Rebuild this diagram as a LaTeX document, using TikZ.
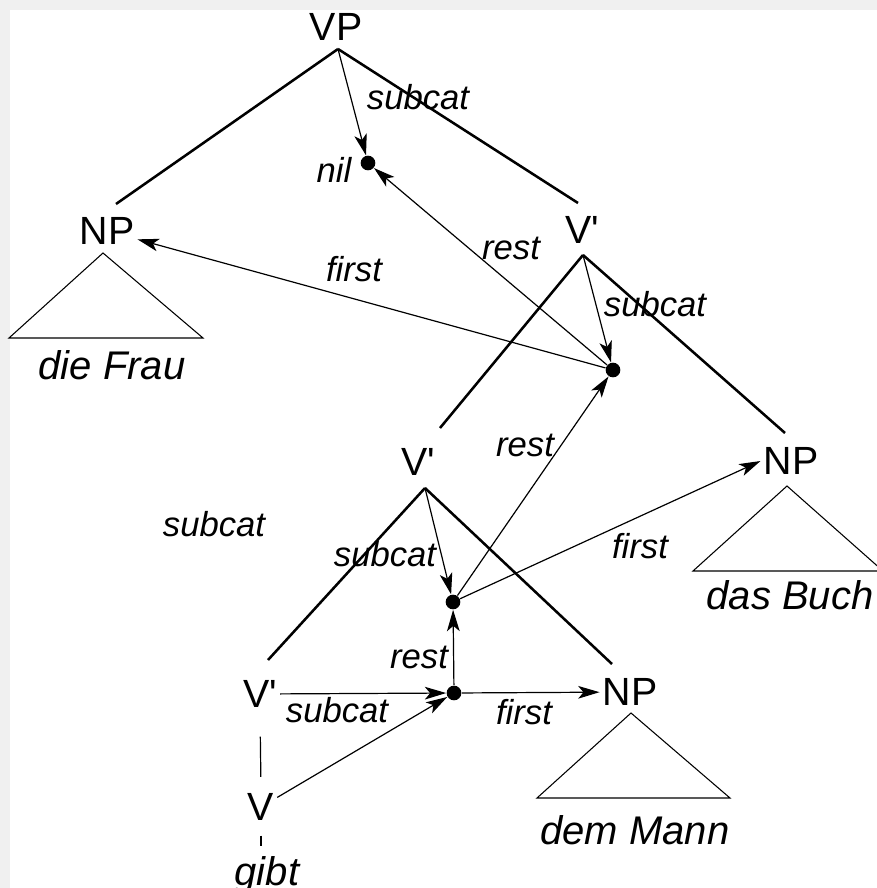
\documentclass[tikz,border=0pt]{standalone}
\usepackage{fontspec}
\setmainfont{Liberation Sans}
\usetikzlibrary{arrows.meta}

\newcommand{\Vbar}{V\textquotesingle}

\tikzset{every picture/.style={line width=0.75pt}}
\tikzset{
  cat/.style={inner sep=2pt, font=\fontsize{29.5}{30}\selectfont},
  word/.style={inner sep=2pt, font=\fontsize{30}{32}\selectfont\itshape},
  feat/.style={inner sep=1pt, font=\fontsize{26}{28}\selectfont\itshape},
  dot/.style={circle, fill, inner sep=0pt, minimum size=11pt},
  branch/.style={line width=1.9pt},
  roof/.style={line width=0.8pt},
  link/.style={line width=0.9pt},
  arc/.style={line width=0.9pt, -{Stealth[length=16pt,width=9.5pt,inset=4pt]}}
}

\begin{document}
\begin{tikzpicture}[x=0.75pt,y=0.75pt,yscale=-1,xscale=1]
%set the frame, grey strip at top and left
\fill[gray!12] (0,0) rectangle (877,888);
\fill[white] (10,10) rectangle (877,888);
\useasboundingbox (0,0) rectangle (877,888);

% Text Node
\node[cat] (vp) at (336,27) {VP};
% Text Node
\node[cat] (np1) at (107,231) {NP};
% Text Node
\node[cat] (v1) at (582,230) {\Vbar};
% Text Node
\node[cat] (v2) at (418,462) {\Vbar};
% Text Node
\node[cat] (np2) at (791,461) {NP};
% Text Node
\node[cat] (v3) at (260,694) {\Vbar};
% Text Node
\node[cat] (np3) at (630,692) {NP};
% Text Node
\node[cat] (v4) at (261,807) {V};

% Text Node
\node[word] (frau) at (112,365) {die Frau};
% Text Node
\node[word] (buch) at (790,595) {das Buch};
% Text Node
\node[word] (mann) at (635,830) {dem Mann};
% Text Node
\node[word, anchor=base] (gibt) at (267,885) {gibt};

%Shape: dots
\node[dot] (d0) at (368,163) {};
\node[dot] (d1) at (613,370) {};
\node[dot] (d2) at (453,602) {};
\node[dot] (d3) at (454,693) {};

%apex points under the labels
\coordinate (vp-b) at (338,49);
\coordinate (v1-b) at (583,255);
\coordinate (v2-b) at (425,488);
\coordinate (np1-b) at (103,253);
\coordinate (np2-b) at (787,486);
\coordinate (np3-b) at (631,713);
%ends of the branches
\coordinate (np1-t) at (116,204);
\coordinate (v1-t) at (578,203);
\coordinate (v2-t) at (440,428);
\coordinate (np2-t) at (785,433);
\coordinate (v3-t) at (268,660);
\coordinate (np3-t) at (612,664);

%Straight Lines: tree
\draw[branch] (vp-b) -- (np1-t);
\draw[branch] (vp-b) -- (v1-t);
\draw[branch] (v1-b) -- (v2-t);
\draw[branch] (v1-b) -- (np2-t);
\draw[branch] (v2-b) -- (v3-t);
\draw[branch] (v2-b) -- (np3-t);
\draw[link, shorten <=19.5pt, shorten >=10pt] (v3.south) -- (v4.north);
\draw[link, shorten <=9pt, shorten >=5pt] (v4.south) -- (v4.south |- gibt.north);

%Shape: triangles
\draw[roof] (np1-b) -- ++(-94,85) -- ++(194,0) -- cycle;
\draw[roof] (np2-b) -- ++(-94,85) -- ++(190,0) -- cycle;
\draw[roof] (np3-b) -- ++(-94,85) -- ++(193,0) -- cycle;

%Straight Lines: arcs
\draw[arc] (vp-b) -- (d0);
\draw[arc] (v1-b) -- (d1);
\draw[arc] (d1) -- (d0);
\draw[arc] (d1) -- (np1);
\draw[arc] (v2-b) -- (d2);
\draw[arc] (d2) -- (d1);
\draw[arc] (d2) -- (np2.west);
\draw[arc] (d3) -- (d2);
\draw[arc] (v3) -- (d3);
\draw[arc] (d3) -- (np3);
\draw[arc] (v4) -- (d3);

% Text Node
\node[feat] (sc-vp) at (418,97) {subcat};
% Text Node
\node[feat] (nil) at (334,170) {nil};
% Text Node
\node[feat] (re-1) at (511,248) {rest};
% Text Node
\node[feat] (fi-1) at (354,269) {first};
% Text Node
\node[feat] (sc-v1) at (655,304) {subcat};
% Text Node
\node[feat] (re-2) at (525,445) {rest};
% Text Node
\node[feat] (fi-2) at (640,546) {first};
% Text Node
\node[feat] (sc-x) at (214,524) {subcat};
% Text Node
\node[feat] (sc-v2) at (385,554) {subcat};
% Text Node
\node[feat] (re-3) at (419,657) {rest};
% Text Node
\node[feat] (sc-v3) at (337,710) {subcat};
% Text Node
\node[feat] (fi-3) at (524,712) {first};

\end{tikzpicture}
\end{document}
